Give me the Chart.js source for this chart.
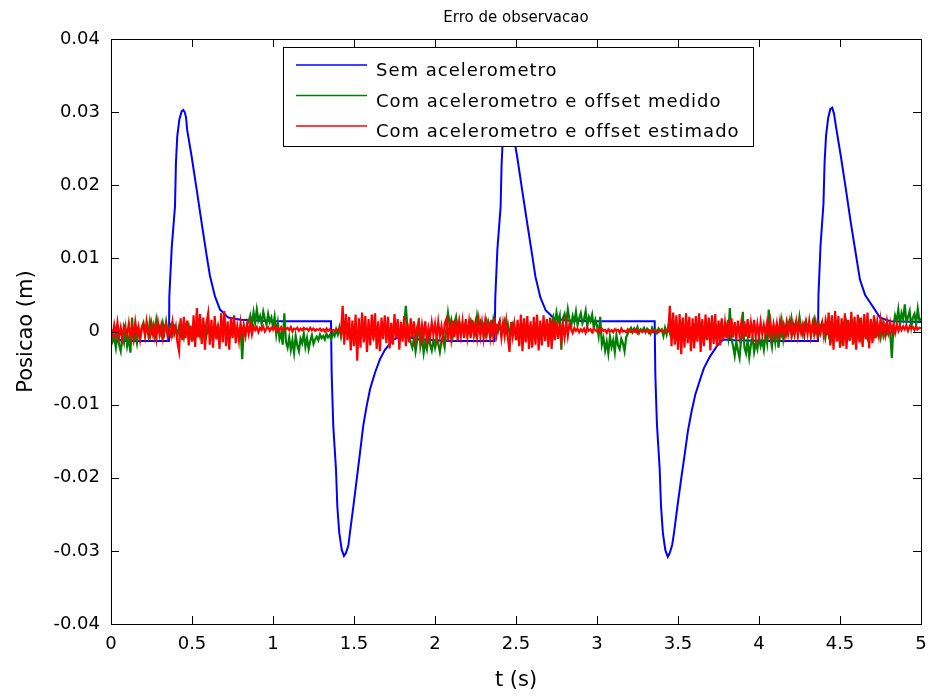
<!DOCTYPE html>
<html>
<head>
<meta charset="utf-8">
<title>Erro de observacao</title>
<script src="https://cdn.jsdelivr.net/npm/chart.js@4.4.0/dist/chart.umd.min.js"></script>
<style>
  html, body { margin: 0; padding: 0; background: #fff; }
  canvas { display: block; }
</style>
</head>
<body>
<canvas id="grafico" width="930" height="696"></canvas>
<script>
// valores em unidades de 1e-4 m

// sem acelerometro (t em s)
const tAzul = [
  0, 0.04, 0.07, 0.358, 0.36, 0.375, 0.395, 0.401, 0.409, 0.422, 0.436, 0.446, 0.455, 0.463, 0.47, 0.498, 0.529, 0.56, 0.591, 0.611, 0.642, 0.673, 0.724, 0.8, 1.0, 1.358,
  1.362, 1.372, 1.389, 1.397, 1.409, 1.424, 1.438, 1.45, 1.465, 1.475, 1.496, 1.517, 1.537, 1.557, 1.578, 1.599, 1.63, 1.66, 1.691, 1.743, 1.804, 1.9, 2.1, 2.368,
  2.372, 2.385, 2.405, 2.411, 2.419, 2.432, 2.446, 2.456, 2.466, 2.477, 2.508, 2.539, 2.57, 2.6, 2.62, 2.65, 2.683, 2.734, 2.81, 3.0, 3.356,
  3.36, 3.37, 3.387, 3.395, 3.407, 3.422, 3.437, 3.449, 3.464, 3.475, 3.496, 3.518, 3.54, 3.562, 3.585, 3.607, 3.636, 3.66, 3.698, 3.74, 3.778, 3.85, 4.1, 4.364,
  4.367, 4.38, 4.398, 4.405, 4.414, 4.427, 4.44, 4.452, 4.463, 4.474, 4.505, 4.536, 4.566, 4.597, 4.623, 4.655, 4.685, 4.747, 4.81, 5.0
];
const azul = [
  0, -10, -13, -13, 48, 115, 171, 231, 267, 290, 301, 303, 300, 293, 276, 239, 194, 148, 103, 76, 48, 30, 19, 16, 14, 14,
  -56, -129, -189, -239, -275, -298, -307, -303, -293, -275, -239, -202, -166, -129, -102, -79, -56, -38, -25, -11, -6, -11, -13, -13,
  46, 112, 170, 228, 265, 288, 300, 302, 295, 278, 238, 192, 147, 104, 75, 47, 29, 18, 15, 14, 14,
  -58, -127, -188, -238, -276, -299, -308, -303, -292, -276, -240, -204, -170, -135, -108, -86, -66, -50, -34, -20, -11, -12, -13, -13,
  50, 118, 175, 232, 268, 292, 304, 306, 298, 282, 240, 195, 150, 107, 71, 50, 40, 19, 14, 13
];

// offset medido, uma amostra a cada 0.01 s
const verde = [
  -5, -14, -8, -22, -3, -18, -27, -6, -15, 4,
  -20, -9, -29, 19, -12, -4, -16, 2, -8, 6,
  12, -3, 8, -5, 14, 0, 9, -6, 16, 3,
  7, -4, 11, -2, 13, -5, 6, 10, -3, 8,
  5, -6, 7, -3, 4, -8, 6, -2, 8, -5,
  3, -7, 5, -4, 8, -6, 2, -3, 7, -5,
  6, -4, 3, -7, 5, -2, 8, -6, 4, -3,
  7, -5, 2, -6, 4, -3, 6, -8, 5, -2,
  3, -38, 6, -4, 9, 14, 22, 8, 26, 12,
  30, 15, 21, 10, 27, 17, 9, 24, 13, 19,
  6, 20, -4, 12, -10, -2, -18, 25, -14, -22,
  -8, -25, -12, -29, -6, -19, -27, -10, -16, -3,
  -21, -9, -24, -13, -5, -17, -11, -7, -12, -4,
  -9, -6, -11, -3, -8, -5, -10, -2, -6, 3,
  -4, 6, -7, 5, -3, 8, -5, 4, -6, 7,
  -2, 5, -8, 3, -4, 7, -6, 2, -3, 6,
  -5, 4, -7, 8, -2, 5, -6, 3, -4, 7,
  -3, 6, -8, 4, -5, 7, -2, 5, -6, 8,
  -4, 10, 35, 4, -6, -15, -22, -9, -27, -12,
  18, -20, -8, -29, -14, -24, -6, -18, -26, -11,
  -22, -9, -17, -28, -13, -5, -20, 4, 25, 8,
  16, -5, 12, 20, 3, 14, -2, 9, 5, 12,
  -4, 8, 15, 3, 10, -1, 21, 6, 13, 2,
  9, -3, 14, 5, 11, -2, 16, 4, 8, 1,
  12, -4, 7, 15, 0, 10, -3, 6, 11, 2,
  4, -6, 5, -3, 6, -5, 3, -4, 5, -2,
  3, -5, 6, -4, 2, -6, 5, -3, 4, -2,
  6, -3, 12, 20, 8, 26, 14, 22, -25, 18,
  24, 10, 30, 16, 6, 21, 13, 27, 9, 18,
  25, 11, 17, 28, 7, 20, 14, 23, 5, 16,
  8, -6, 20, -18, -9, -26, -14, -30, -7, -21,
  -12, -28, -5, -19, -24, -10, -16, -27, -8, -3,
  2, 5, -1, 4, 0, 6, -2, 3, 1, 5,
  -1, 4, 2, -3, 5, 0, 3, -2, 4, 1,
  3, -6, 5, -4, 7, -2, 6, -5, 4, -7,
  5, -3, 8, -6, 2, -4, 7, -5, 3, -2,
  6, -7, 4, -3, 8, -5, 2, -6, 5, -4,
  7, -3, 4, -6, 5, -2, 8, -5, 3, -4,
  6, -8, 32, -10, -20, -33, -14, -26, -36, -9,
  27, -22, -30, -12, -35, -18, -7, -28, -15, -24,
  -6, -20, -12, -25, -4, -16, 30, -8, -21, 2,
  -14, 10, -22, -5, 14, -10, 6, -3, 12, 5,
  18, -2, 9, 14, 0, 20, 6, -4, 11, 15,
  3, 12, -5, 8, 17, 1, 10, -3, 7, 13,
  5, -8, 10, -4, 7, -9, 6, -3, 9, -6,
  4, -10, 8, -5, 10, -7, 3, -4, 9, -8,
  6, -5, 10, -9, 4, -3, 8, -7, 5, -2,
  7, -6, 9, -4, 3, -8, 10, -5, 6, -3,
  4, -2, -36, 8, 22, 14, 30, 9, 25, 17,
  37, 12, 20, 28, 6, 19, 24, 10, 31, 15,
  18
];

// offset estimado, uma amostra a cada 0.01 s
const vermelho = [
  3, -6, 9, -4, 12, -8, 5, -10, 8, 2,
  -5, 11, -7, 6, -9, 13, -3, 7, -11, 4,
  9, -6, 14, -2, -8, 10, -5, 6, -10, 12,
  -4, 8, -9, 5, 11, -7, 3, -6, 13, -3,
  7, -15, -27, 18, -12, 20, -9, 15, -19, 8,
  -14, 22, -21, 32, -8, 24, -17, 19, -25, 12,
  25, -18, 16, -22, 21, -11, 9, -24, 25, -15,
  28, -20, 14, -25, 19, -9, 22, -16, 6, -12,
  12, -5, 8, -6, 10, -3, 11, -4, 7, 2,
  6, -1, 5, 2, 7, 0, 4, 6, 1, 5,
  3, 7, 0, 5, 2, 6, 1, 4, 3, 5,
  2, 6, 0, 4, 3, 5, 1, 4, 2, 5,
  3, 4, 1, 5, 2, 4, 1, 3, 2, 4,
  1, 3, 0, 4, 1, 3, 0, 2, 1, 3,
  2, 4, -3, 35, -18, 24, -12, 20, -26, 15,
  -20, 23, -40, 18, -22, 26, -15, 21, -28, 17,
  -19, 23, -12, 25, -24, 14, -27, 19, -10, 22,
  -16, 20, -23, 12, -18, 24, -9, 17, -25, 13,
  -14, 21, -20, 11, -15, 18, -8, 14, -11, 6,
  13, -10, 9, -7, 14, -11, 5, -8, 12, -4,
  10, -9, 13, -6, 7, -11, 11, 17, -13, 9,
  -10, 15, -8, 16, -13, 12, -6, 14, -9, 17,
  -7, 13, -9, 16, -5, 11, -8, 15, -6, 12,
  -9, 14, -4, 10, -8, 16, -7, 12, -5, 9,
  15, -8, 11, -6, 14, -9, -28, 13, -7, 10,
  -12, 16, -20, 23, -27, 18, -15, 21, -24, 14,
  -22, 20, -18, 23, -26, 15, -19, 22, -13, 17,
  -21, 19, -24, 16, -12, 14, -10, 12, -11, 9,
  -8, 13, -6, 10, 4, -2, 5, 1, 4, -1,
  3, 0, 4, -2, 5, 1, 3, -1, 4, 2,
  0, 3, -1, 4, 1, 2, -2, 3, 0, 2,
  -1, 3, 1, 2, -2, 4, 0, 1, -1, 3,
  1, -1, 2, 0, 3, -2, 1, 2, -1, 1,
  0, 2, -2, 1, -1, 2, 0, 1, -1, 2,
  0, 1, -1, 2, 1, 35, -20, 26, -18, 22,
  -25, 24, -31, 19, -22, 25, -16, 20, -27, 18,
  -23, 21, -14, 25, -28, 17, -20, 23, -12, 19,
  -26, 22, -17, 24, -21, 15, -19, 18, -11, 12,
  -9, 16, -10, 18, -8, 13, -11, 15, -6, 11,
  -10, 14, -7, 17, -9, 12, -5, 16, -8, 10,
  -6, 13, -4, 9, -5, 12, -3, 14, -6, 10,
  -4, 11, -5, 14, -2, 9, -6, 12, -3, 13,
  -5, 10, -4, 13, -6, 11, -2, 9, -5, 12,
  -3, 14, -6, 10, -4, 12, -5, 9, -2, 11,
  -6, 13, -5, 26, -19, 22, -25, 28, -14, 21,
  -22, 18, -20, 25, -24, 16, -13, 27, -18, 20,
  -25, 23, -15, 19, -21, 24, -11, 26, -23, 17,
  -16, 22, -9, 13, -5, 16, -2, 11, -4, 14,
  -1, 12, 0, 9, -2, 10, 1, 8, 2, 7,
  3, 8, 1, 7, 4, 6, 2, 7, 3, 5,
  4
];

const titulo = "Erro de observacao";
const nomes = ["Sem acelerometro", "Com acelerometro e offset medido", "Com acelerometro e offset estimado"];
const cores = ["#0000ff", "#008000", "#ff0000"];

const escala = 1e-4;
const tRuido = verde.map((_, i) => i / 100);
const pontos = (ts, ys) => ys.map((y, i) => ({ x: ts[i], y: y * escala }));

const fonte = "'DejaVu Sans', sans-serif";

// caixa, marcas internas, titulo e legenda no estilo do matlab
const moldura = {
  id: "moldura",
  afterDraw(chart) {
    const { ctx, chartArea: a, scales } = chart;
    ctx.save();
    ctx.strokeStyle = "#000";
    ctx.lineWidth = 1;
    ctx.strokeRect(a.left + 0.5, a.top + 0.5, a.right - a.left, a.bottom - a.top);
    ctx.beginPath();
    scales.x.ticks.forEach((t) => {
      const x = Math.round(scales.x.getPixelForValue(t.value)) + 0.5;
      ctx.moveTo(x, a.bottom);
      ctx.lineTo(x, a.bottom - 8);
      ctx.moveTo(x, a.top);
      ctx.lineTo(x, a.top + 8);
    });
    scales.y.ticks.forEach((t) => {
      const y = Math.round(scales.y.getPixelForValue(t.value)) + 0.5;
      ctx.moveTo(a.left, y);
      ctx.lineTo(a.left + 8, y);
      ctx.moveTo(a.right, y);
      ctx.lineTo(a.right - 8, y);
    });
    ctx.stroke();

    ctx.fillStyle = "#000";
    ctx.font = "15px " + fonte;
    ctx.textAlign = "center";
    ctx.textBaseline = "middle";
    ctx.fillText(titulo, (a.left + a.right) / 2, 18);

    // legenda
    ctx.fillStyle = "#fff";
    ctx.fillRect(283, 47, 470, 99);
    ctx.strokeRect(283.5, 47.5, 470, 99);
    ctx.font = "18px " + fonte;
    ctx.textBaseline = "alphabetic";
    ctx.textAlign = "left";
    if ("letterSpacing" in ctx) ctx.letterSpacing = "1px";
    nomes.forEach((nome, i) => {
      const y = 65 + i * 30.5;
      ctx.strokeStyle = cores[i];
      ctx.lineWidth = 1.5;
      ctx.beginPath();
      ctx.moveTo(296, y);
      ctx.lineTo(367, y);
      ctx.stroke();
      ctx.fillStyle = "#000";
      ctx.fillText(nome, 376, y + 11);
    });
    ctx.restore();
  }
};

new Chart(document.getElementById("grafico"), {
  type: "line",
  data: {
    datasets: [
      {
        label: nomes[0],
        data: pontos(tAzul, azul),
        borderColor: cores[0],
        borderWidth: 2,
        pointRadius: 0,
        order: 3,
      },
      {
        label: nomes[1],
        data: pontos(tRuido, verde),
        borderColor: cores[1],
        borderWidth: 2.2,
        pointRadius: 0,
        order: 2,
      },
      {
        label: nomes[2],
        data: pontos(tRuido, vermelho),
        borderColor: cores[2],
        borderWidth: 2.2,
        pointRadius: 0,
        order: 1,
      },
    ],
  },
  options: {
    responsive: false,
    animation: false,
    devicePixelRatio: 1,
    layout: {
      padding: { left: 0, right: 9, top: 39, bottom: 0 },
    },
    plugins: {
      legend: {
        display: false,
      },
      tooltip: {
        enabled: false,
      },
      title: {
        display: false,
      },
    },
    scales: {
      x: {
        type: "linear",
        min: 0,
        max: 5,
        grid: { display: false, drawTicks: false },
        border: { display: false },
        ticks: {
          stepSize: 0.5,
          autoSkip: false,
          maxRotation: 0,
          padding: 10,
          color: "#000",
          font: { family: fonte, size: 18 },
          callback: (v) => String(Number(v.toFixed(1))),
        },
        title: {
          display: true,
          text: "t (s)",
          color: "#000",
          font: { family: fonte, size: 21 },
          padding: { top: 0, bottom: 3 },
        },
        afterFit: (s) => {
          s.height = 72;
          s.paddingLeft = 0;
          s.paddingRight = 0;
        },
      },
      y: {
        min: -0.04,
        max: 0.04,
        grid: { display: false, drawTicks: false },
        border: { display: false },
        ticks: {
          stepSize: 0.01,
          padding: 11,
          color: "#000",
          font: { family: fonte, size: 18 },
          callback: (v) => (Math.abs(v) < 1e-9 ? "0" : String(Number(v.toFixed(2)))),
        },
        title: {
          display: true,
          text: "Posicao (m)",
          color: "#000",
          font: { family: fonte, size: 21 },
          padding: { top: 14, bottom: 0 },
        },
        afterFit: (s) => {
          s.width = 111;
          s.paddingTop = 0;
          s.paddingBottom = 0;
        },
      },
    },
  },
  plugins: [moldura],
});
</script>
</body>
</html>
